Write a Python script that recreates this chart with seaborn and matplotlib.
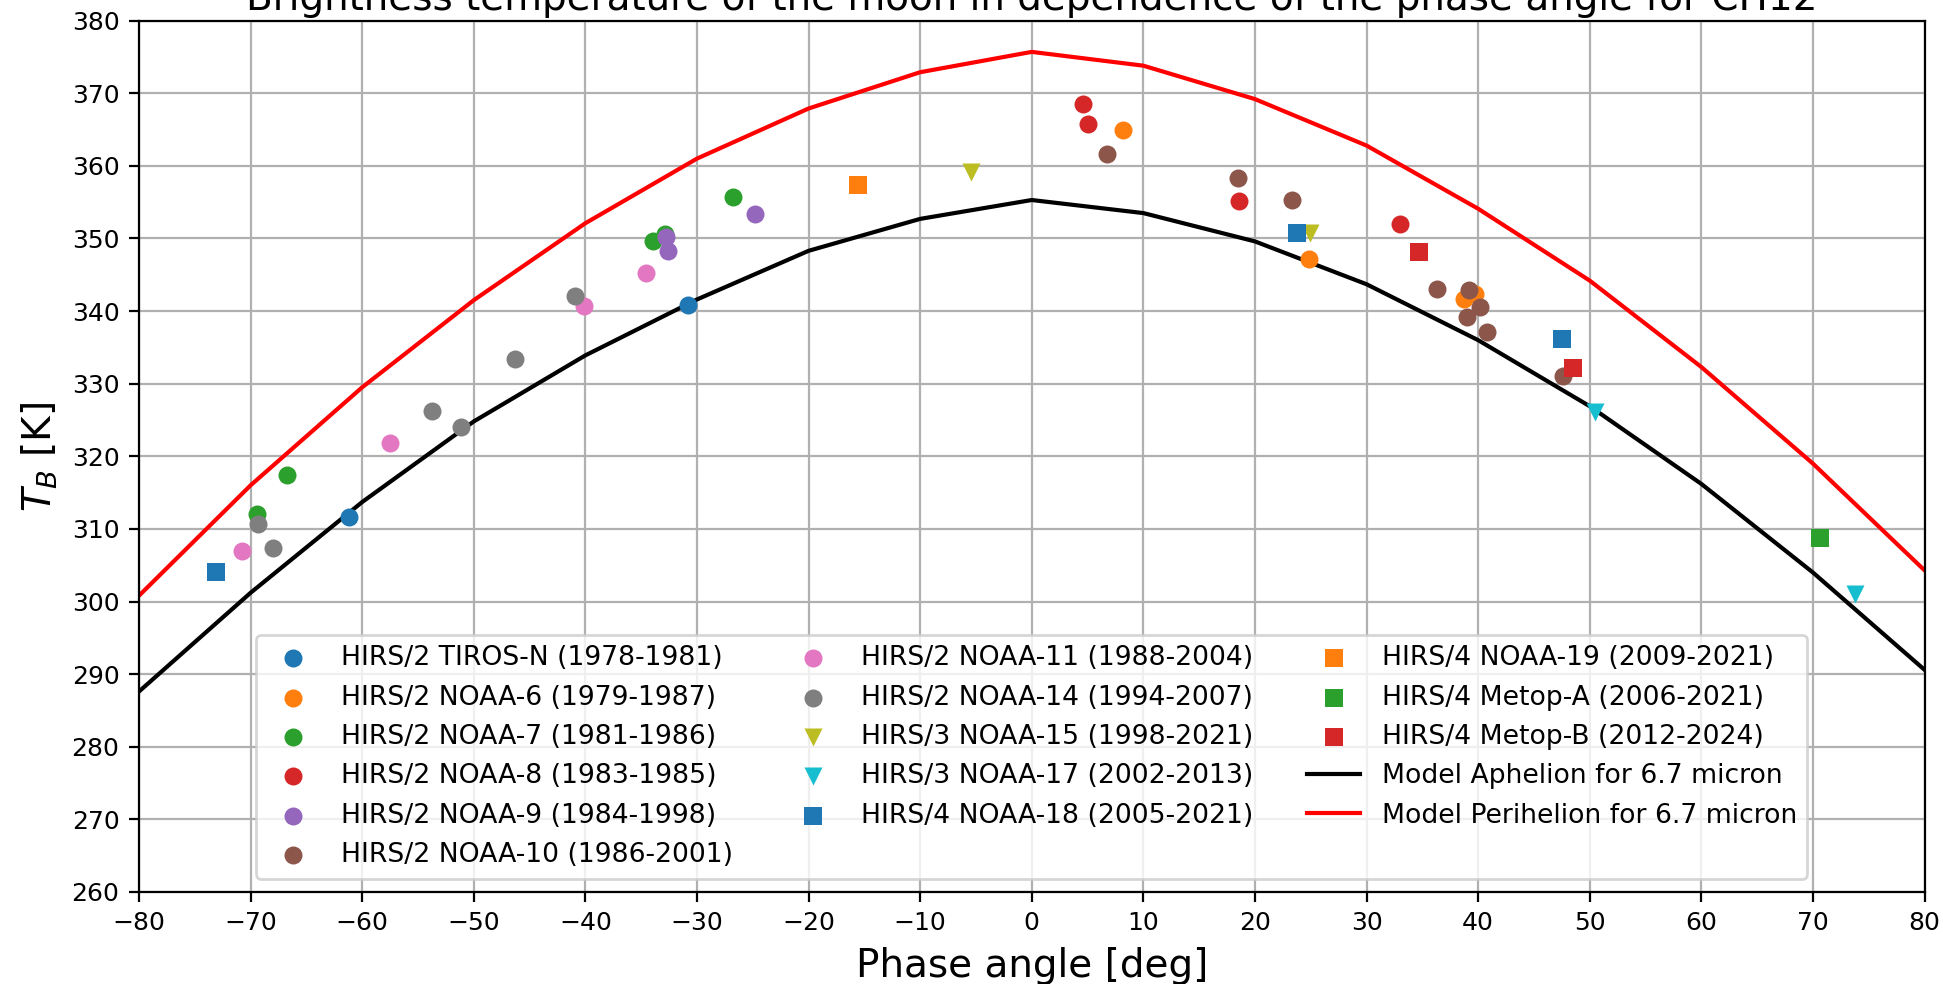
#!/usr/bin/env python3
"""
Brightness temperature of the moon vs. phase angle (HIRS channel 12).

Scatter of the per-instrument observations plus the aphelion / perihelion
model curves for 6.7 micron.
"""

import numpy as np
import pandas as pd
import matplotlib
matplotlib.use("Agg")
import matplotlib.pyplot as plt
import seaborn as sns

# ---------------------------------------------------------
# DATA
# ---------------------------------------------------------
SERIES_LABELS = [
    "HIRS/2 TIROS-N (1978-1981)",
    "HIRS/2 NOAA-6 (1979-1987)",
    "HIRS/2 NOAA-7 (1981-1986)",
    "HIRS/2 NOAA-8 (1983-1985)",
    "HIRS/2 NOAA-9 (1984-1998)",
    "HIRS/2 NOAA-10 (1986-2001)",
    "HIRS/2 NOAA-11 (1988-2004)",
    "HIRS/2 NOAA-14 (1994-2007)",
    "HIRS/3 NOAA-15 (1998-2021)",
    "HIRS/3 NOAA-17 (2002-2013)",
    "HIRS/4 NOAA-18 (2005-2021)",
    "HIRS/4 NOAA-19 (2009-2021)",
    "HIRS/4 Metop-A (2006-2021)",
    "HIRS/4 Metop-B (2012-2024)",
]

PHASE_ANGLES = [
    [-61.2, -30.8],
    [8.2, 24.8, 38.7, 39.7],
    [-69.4, -66.7, -33.9, -32.9, -26.8],
    [4.6, 5.0, 18.6, 33.0],
    [-32.8, -32.6, -24.8],
    [6.7, 18.5, 23.3, 36.3, 39.2, 40.2, 39.0, 40.8, 47.6],
    [-70.8, -57.5, -40.1, -34.6],
    [-69.3, -68.0, -53.7, -51.1, -46.3, -40.9],
    [-5.4, 24.9],
    [50.5, 73.8],
    [-73.1, 23.8, 47.5],
    [-15.6],
    [70.6],
    [34.7, 48.5],
]

BRIGHTNESS_TEMPS = [
    [311.7, 340.8],
    [364.9, 347.2, 341.6, 342.3],
    [312.1, 317.4, 349.7, 350.6, 355.7],
    [368.5, 365.8, 355.2, 352.0],
    [350.2, 348.3, 353.4],
    [361.6, 358.3, 355.3, 343.1, 342.9, 340.6, 339.2, 337.1, 331.1],
    [306.9, 321.8, 340.7, 345.3],
    [310.7, 307.4, 326.2, 324.0, 333.4, 342.1],
    [359.2, 350.7],
    [326.1, 301.0],
    [304.1, 350.7, 336.2],
    [357.3],
    [308.8],
    [348.1, 332.1],
]

# Model curves for 6.7 micron
MODEL_ANGLE = [-80, -70, -60, -50, -40, -30, -20, -10, 0,
               10, 20, 30, 40, 50, 60, 70, 80]
MODEL_APHELION = [287.6, 301.2, 313.7, 324.8, 333.9, 341.6, 348.3, 352.7, 355.3,
                  353.5, 349.6, 343.7, 336.0, 326.9, 316.2, 304.0, 290.6]
MODEL_PERIHELION = [300.8, 316.0, 329.5, 341.5, 352.1, 361.0, 367.9, 372.9, 375.7,
                    373.8, 369.2, 362.8, 354.1, 344.2, 332.3, 319.0, 304.3]

OUT_FIG = "out.png"


def marker_for(label):
    """HIRS/2 -> circle, HIRS/3 -> down triangle, HIRS/4 -> square."""
    if label.startswith("HIRS/3"):
        return "v"
    if label.startswith("HIRS/4"):
        return "s"
    return "o"


def build_plot():
    fig, ax = plt.subplots(figsize=(9.715, 4.92), dpi=200)
    fig.subplots_adjust(left=0.0715, right=0.9905, bottom=0.0935, top=0.979)

    palette = sns.color_palette("tab10", 10)

    # -------------------------------------------------
    # Observations
    # -------------------------------------------------
    for i, label in enumerate(SERIES_LABELS):
        df = pd.DataFrame({"angle": PHASE_ANGLES[i], "tb": BRIGHTNESS_TEMPS[i]})
        sns.scatterplot(
            data=df,
            x="angle",
            y="tb",
            color=palette[i % 10],
            marker=marker_for(label),
            s=42,
            linewidth=0,
            label=label,
            ax=ax,
            zorder=3,
        )

    # -------------------------------------------------
    # Model curves
    # -------------------------------------------------
    sns.lineplot(x=MODEL_ANGLE, y=MODEL_APHELION, color="black", linewidth=1.5,
                 label="Model Aphelion for 6.7 micron", ax=ax, zorder=2)
    sns.lineplot(x=MODEL_ANGLE, y=MODEL_PERIHELION, color="red", linewidth=1.5,
                 label="Model Perihelion for 6.7 micron", ax=ax, zorder=2)

    ax.set_xlim(-80, 80)
    ax.set_ylim(260, 380)
    ax.set_xticks(np.arange(-80, 81, 10))
    ax.set_yticks(np.arange(260, 381, 10))
    ax.tick_params(labelsize=9)
    ax.grid(True)
    ax.set_axisbelow(True)

    ax.set_title("Brightness temperature of the moon in dependence of the phase angle for CH12",
                 fontsize=14, pad=4)
    ax.set_xlabel("Phase angle [deg]", fontsize=14)
    ax.set_ylabel("$T_B$ [K]", fontsize=14)

    ax.legend(loc="lower center", ncol=3, fontsize=9.6)

    fig.savefig(OUT_FIG, dpi=200)
    plt.close(fig)


if __name__ == "__main__":
    build_plot()
